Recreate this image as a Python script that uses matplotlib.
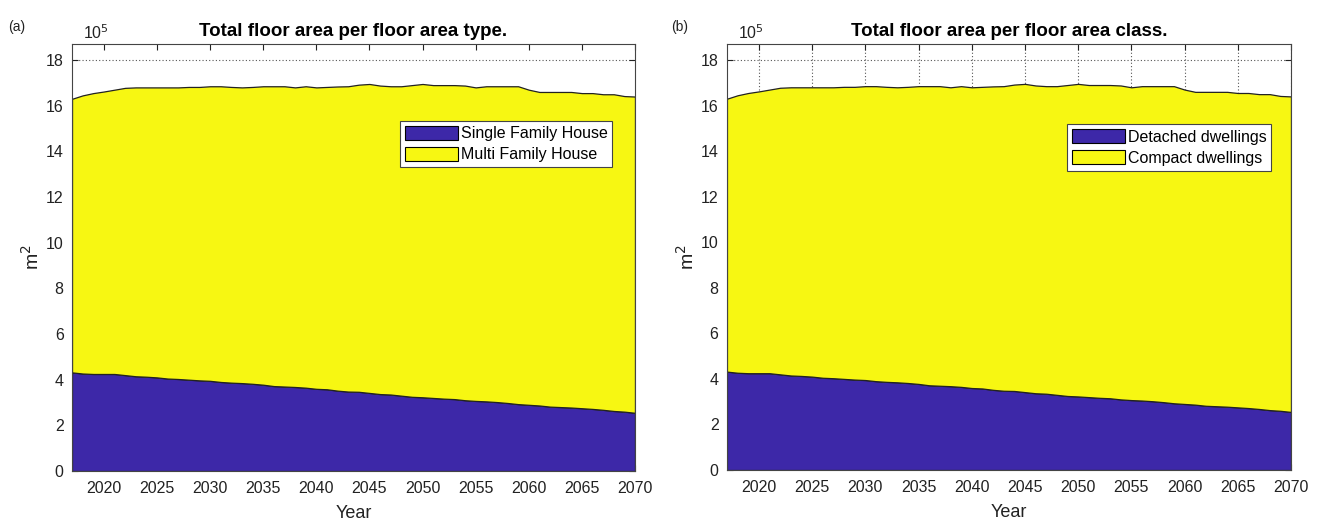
import matplotlib
matplotlib.use("Agg")
import matplotlib.pyplot as plt
from matplotlib.patches import Patch

plt.rcParams['font.family'] = ['Liberation Sans', 'DejaVu Sans']

years = list(range(2017, 2071))

# Floor area of the lower (detached / single family) stock, in 1e5 m^2
sfh = [4.32, 4.27, 4.25, 4.25, 4.25, 4.20, 4.15, 4.13, 4.10, 4.05,
       4.03, 4.00, 3.97, 3.95, 3.90, 3.87, 3.85, 3.82, 3.78, 3.72,
       3.70, 3.68, 3.65, 3.60, 3.58, 3.52, 3.48, 3.47, 3.42, 3.37,
       3.35, 3.30, 3.25, 3.23, 3.20, 3.17, 3.15, 3.10, 3.07, 3.05,
       3.02, 2.98, 2.93, 2.90, 2.87, 2.82, 2.80, 2.78, 2.75, 2.72,
       2.68, 2.63, 2.60, 2.55]

# Floor area of the upper (compact / multi family) stock, in 1e5 m^2
mfh = [11.98, 12.18, 12.30, 12.37, 12.45, 12.58, 12.65, 12.67, 12.70, 12.75,
       12.77, 12.82, 12.85, 12.90, 12.95, 12.95, 12.95, 13.00, 13.07, 13.13,
       13.15, 13.12, 13.20, 13.20, 13.24, 13.32, 13.37, 13.45, 13.53, 13.51,
       13.50, 13.55, 13.65, 13.72, 13.70, 13.73, 13.75, 13.78, 13.73, 13.80,
       13.83, 13.87, 13.92, 13.80, 13.73, 13.78, 13.80, 13.82, 13.80, 13.83,
       13.82, 13.87, 13.82, 13.85]

x_ticks = [2020, 2025, 2030, 2035, 2040, 2045, 2050, 2055, 2060, 2065, 2070]
y_ticks = [0, 2, 4, 6, 8, 10, 12, 14, 16, 18]

panels = [
    dict(tag="(a)", title="Total floor area per floor area type.",
         labels=["Single Family House", "Multi Family House"],
         rect=[0.0545, 0.1011, 0.4262, 0.8149], xgrid=False,
         tag_pos=(0.006, 0.962), leg_anchor=(0.960, 0.820)),
    dict(tag="(b)", title="Total floor area per floor area class.",
         labels=["Detached dwellings", "Compact dwellings"],
         rect=[0.5503, 0.1030, 0.4270, 0.8130], xgrid=True,
         tag_pos=(0.508, 0.962), leg_anchor=(0.965, 0.812)),
]

blue = "#3d28a8"
yellow = "#f7f712"

fig = plt.figure(figsize=(13.21, 5.24), dpi=100)

for p in panels:
    ax = fig.add_axes(p["rect"])
    ax.stackplot(years, sfh, mfh, colors=[blue, yellow],
                 edgecolor="#222222", linewidth=0.9, zorder=2)
    ax.set_xlim(2017, 2070)
    ax.set_ylim(0, 18.7)
    ax.set_xticks(x_ticks)
    ax.set_yticks(y_ticks)
    ax.tick_params(direction="in", top=True, right=True, length=4,
                   labelsize=11.5, colors="#222222", pad=7)
    ax.tick_params(axis="y", pad=6)
    for s in ax.spines.values():
        s.set_color("#444444")
        s.set_linewidth(0.8)
        s.set_zorder(3)
    ax.set_axisbelow(True)
    ax.grid(True, axis="y", linestyle=(0, (1, 2)), color="#555555",
            linewidth=0.8)
    if p["xgrid"]:
        ax.grid(True, axis="x", linestyle=(0, (1, 2)), color="#555555",
                linewidth=0.8)
    ax.set_xlabel("Year", fontsize=13, color="#222222", labelpad=7)
    ax.set_ylabel("m$^2$", fontsize=14, color="#222222", labelpad=2)
    ax.set_title(p["title"], fontsize=13.5, fontweight="bold", pad=6)
    ax.text(0.02, 1.005, r"10$^5$", transform=ax.transAxes, fontsize=11.5,
            ha="left", va="bottom", color="#222222")
    handles = [Patch(facecolor=blue, edgecolor="black", linewidth=0.8),
               Patch(facecolor=yellow, edgecolor="black", linewidth=0.8)]
    leg = ax.legend(handles, p["labels"], loc="upper right",
                    bbox_to_anchor=p["leg_anchor"], fontsize=11.5,
                    fancybox=False, framealpha=1, edgecolor="#444444",
                    handlelength=3.3, handleheight=1.0, handletextpad=0.2,
                    borderpad=0.3, labelspacing=0.35, borderaxespad=0)
    leg.get_frame().set_linewidth(0.8)
    fig.text(p["tag_pos"][0], p["tag_pos"][1], p["tag"], fontsize=10,
             color="#222222", ha="left", va="top")

fig.savefig("out.png", dpi=100)
